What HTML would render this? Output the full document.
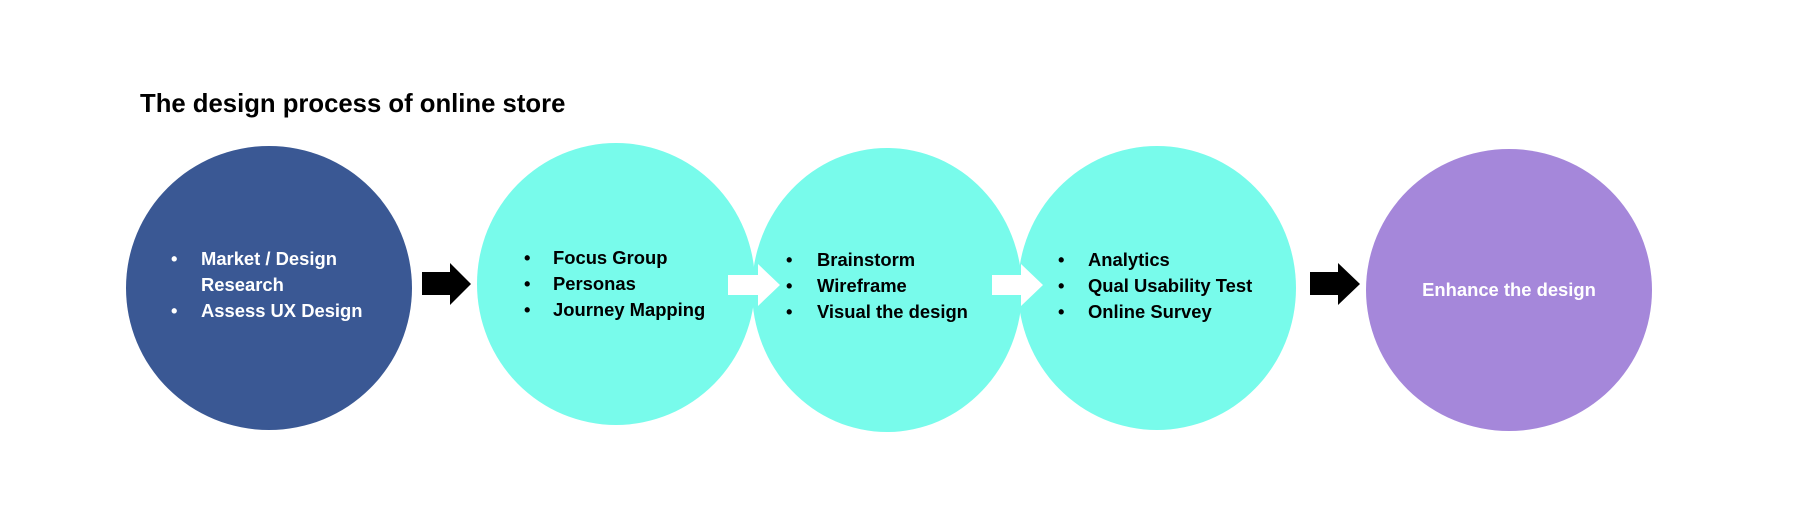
<!DOCTYPE html>
<html><head><meta charset="utf-8"><style>
body{margin:0;width:1800px;height:518px;background:#fff;overflow:hidden;font-family:"Liberation Sans",sans-serif;}
</style></head><body>
<svg width="1800" height="518" xmlns="http://www.w3.org/2000/svg" style="font-family:'Liberation Sans',sans-serif;font-weight:bold">
<text x="140" y="112" font-size="25.7" fill="#000">The design process of online store</text>
<ellipse cx="269" cy="288" rx="143" ry="142" fill="#3A5894"/>
<ellipse cx="616" cy="284" rx="139" ry="141" fill="#78FBEB"/>
<ellipse cx="887" cy="290" rx="135" ry="142" fill="#78FBEB"/>
<ellipse cx="1157" cy="288" rx="139" ry="142" fill="#78FBEB"/>
<ellipse cx="1509" cy="290" rx="143" ry="141" fill="#A587DA"/>
<polygon points="422,272 450,272 450,263 471,284 450,305 450,295 422,295" fill="#000"/>
<polygon points="728,275 758,275 758,264 780,285 758,306 758,295 728,295" fill="#fff"/>
<polygon points="992,275 1021,275 1021,264 1043,285 1021,306 1021,295 992,295" fill="#fff"/>
<polygon points="1310,272 1338,272 1338,263 1360,284 1338,305 1338,295 1310,295" fill="#000"/>
<g font-size="18.4" fill="#fff">
<text x="171" y="265">•</text><text x="201" y="265">Market / Design</text>
<text x="201" y="291">Research</text>
<text x="171" y="317">•</text><text x="201" y="317">Assess UX Design</text>
</g>
<g font-size="18.4" fill="#000">
<text x="524" y="264">•</text><text x="553" y="264">Focus Group</text>
<text x="524" y="290">•</text><text x="553" y="290">Personas</text>
<text x="524" y="316">•</text><text x="553" y="316">Journey Mapping</text>
<text x="786" y="266">•</text><text x="817" y="266">Brainstorm</text>
<text x="786" y="292">•</text><text x="817" y="292">Wireframe</text>
<text x="786" y="318">•</text><text x="817" y="318">Visual the design</text>
<text x="1058" y="266">•</text><text x="1088" y="266">Analytics</text>
<text x="1058" y="292">•</text><text x="1088" y="292">Qual Usability Test</text>
<text x="1058" y="318">•</text><text x="1088" y="318">Online Survey</text>
</g>
<text x="1509" y="296" font-size="18.4" fill="#fff" text-anchor="middle">Enhance the design</text>
</svg>
</body></html>
